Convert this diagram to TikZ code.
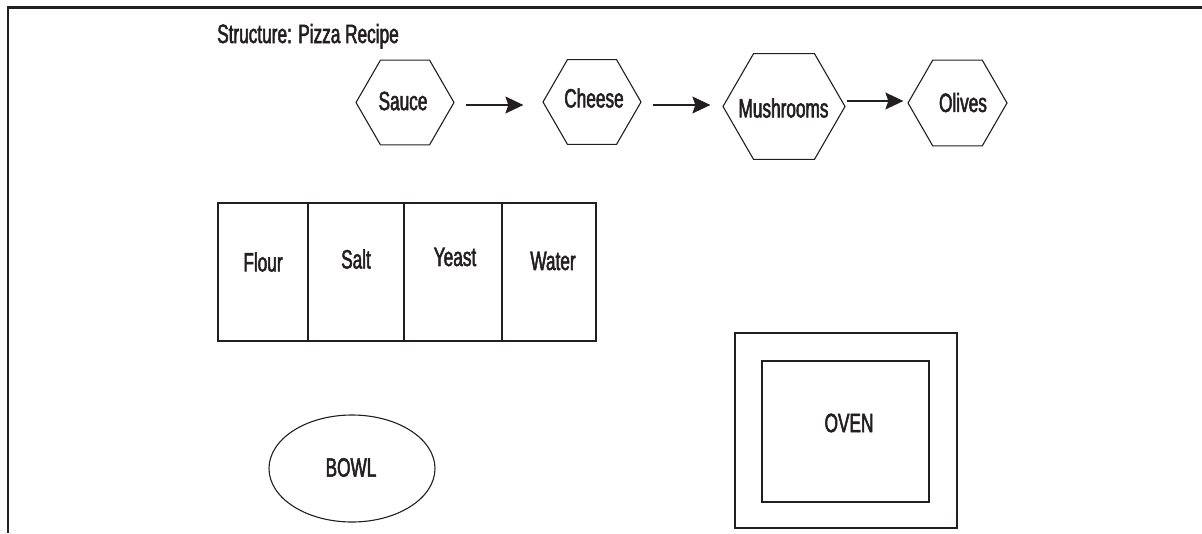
\documentclass[tikz,border=0pt]{standalone}
\usepackage{fontspec}
\setmainfont{Liberation Sans}[FakeStretch=0.65,FakeBold=2]
\usetikzlibrary{shapes.geometric,arrows.meta}
\definecolor{ink}{HTML}{231F20}
\tikzset{
  lbl/.style={inner sep=0pt, text=ink, font=\fontsize{26.5}{30}\selectfont},
  hexa/.style={draw=ink, line width=1.1pt, regular polygon, regular polygon sides=6, inner sep=0pt},
  cell/.style={draw=ink, line width=1.1pt, rectangle, inner sep=0pt},
  arr/.style={draw=ink, line width=1.1pt, -{Stealth[length=18pt,width=17pt,inset=3pt]}},
}
\begin{document}
\begin{tikzpicture}[x=1pt,y=-1pt]
\useasboundingbox (0,0) rectangle (1202,533);
% frame
\draw[ink, line width=2.6pt] (1202,7.5) -- (8,7.5) -- (8,533);
% title
\node[lbl, anchor=base west] (title) at (217,43) {Structure: Pizza Recipe};
% hexagons
\node[hexa, minimum size=98pt] (sauce) at (405,102.5) {};
\node[hexa, minimum size=98pt] (cheese) at (592,102) {};
\node[hexa, minimum size=122pt] (mush) at (784,106.5) {};
\node[hexa, minimum size=99pt] (olives) at (957.5,103) {};
\node[lbl] (tsauce) at (403,101) {Sauce};
\node[lbl] (tcheese) at (594,98) {Cheese};
\node[lbl] (tmush) at (783.5,108) {Mushrooms};
\node[lbl] (tolives) at (963,102.5) {Olives};
\draw[arr, shorten <=11pt, shorten >=19pt] ([yshift=-2.5pt]sauce.east) -- ([yshift=-2.5pt]sauce.east -| cheese.west);
\draw[arr, shorten <=11pt, shorten >=12pt] ([yshift=-3pt]cheese.east) -- ([yshift=-3pt]cheese.east -| mush.west);
\draw[arr, shorten <=1pt, shorten >=4pt] ([yshift=2pt]mush.east |- olives.west) -- ([yshift=2pt]olives.west);
% ingredients
\node[cell, minimum width=90pt, minimum height=138pt] (flour) at (263,272) {};
\node[cell, minimum width=96pt, minimum height=138pt] (salt) at (356,272) {};
\node[cell, minimum width=98pt, minimum height=138pt] (yeast) at (453,272) {};
\node[cell, minimum width=94pt, minimum height=138pt] (water) at (549,272) {};
\node[lbl] (tflour) at (263,262) {Flour};
\node[lbl] (tsalt) at (356,259) {Salt};
\node[lbl] (tyeast) at (455,257) {Yeast};
\node[lbl] (twater) at (553,261) {Water};
% bowl
\node[draw=ink, line width=1.1pt, ellipse, minimum width=166pt, minimum height=107pt, inner sep=0pt] (bowl) at (352,468.5) {};
\node[lbl] (tbowl) at (351,467.5) {BOWL};
% oven
\node[cell, minimum width=222pt, minimum height=195pt] (ovenout) at (846,430.5) {};
\node[cell, minimum width=167pt, minimum height=141pt] (ovenin) at (845.5,431.5) {};
\node[lbl] (toven) at (849,423) {OVEN};
\end{tikzpicture}
\end{document}
